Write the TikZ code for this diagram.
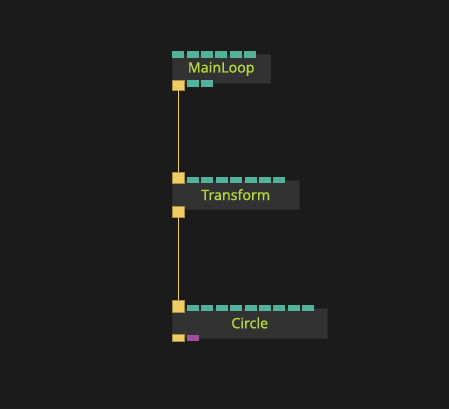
\documentclass[tikz,border=0pt]{standalone}
\usepackage{fontspec}
\setmainfont{Noto Sans}
\newfontfamily\labelfont[FakeBold=0.8]{Noto Sans}
\definecolor{canvas}{HTML}{1B1B1B}
\definecolor{nodebg}{HTML}{323232}
\definecolor{nodeedge}{HTML}{2A2A2A}
\definecolor{label}{HTML}{B8D63C}
\definecolor{teal}{HTML}{52B39A}
\definecolor{flow}{HTML}{F0CD64}
\definecolor{mauve}{HTML}{A0509A}
\tikzset{
  opnode/.style={draw=nodeedge,fill=nodebg,text=label,anchor=north west,
    minimum height=29.5pt,inner sep=0pt,font=\labelfont\fontsize{14.2}{16}\selectfont},
  flowport/.style={fill=flow,draw=flow!70!black,line width=0.4pt,anchor=north west,
    minimum width=12pt,minimum height=11pt,inner sep=0pt},
  dataport/.style={fill=teal,anchor=north west,minimum width=12pt,minimum height=6.7pt,inner sep=0pt},
  link/.style={draw=flow,line width=0.8pt}
}
\begin{document}
\begin{tikzpicture}[x=1pt,y=-1pt]
\fill[canvas] (0,0) rectangle (449,409);
\useasboundingbox (0,0) rectangle (449,409);

% MainLoop
\node[opnode,minimum width=98pt] (mainloop) at (172,54) {MainLoop};
\foreach \i in {0,...,5}
  \node[dataport] (ml-in\i) at ({172+14.4*\i},50.7) {};
\node[flowport,minimum height=10pt] (ml-out) at (172,80) {};
\node[dataport] (ml-d0) at (186.7,80) {};
\node[dataport] (ml-d1) at (201.1,80) {};

% Transform
\node[opnode,minimum width=127pt] (transform) at (172,179.7) {Transform};
\node[flowport] (tf-in) at (172,172.3) {};
\foreach \i in {0,...,6}
  \node[dataport] (tf-in\i) at ({186.7+14.4*\i},176.3) {};
\node[flowport] (tf-out) at (172,206) {};

% Circle
\node[opnode,minimum width=155pt,minimum height=30pt] (circle) at (172,307.7) {Circle};
\node[flowport,minimum height=11.4pt] (ci-in) at (172,300.3) {};
\foreach \i in {0,...,8}
  \node[dataport] (ci-in\i) at ({186.7+14.4*\i},304.3) {};
\node[flowport,minimum height=6.7pt] (ci-out) at (172,334.3) {};
\node[dataport,fill=mauve] (ci-d0) at (186.7,334.3) {};

% links
\draw[link] (ml-out) -- (tf-in);
\draw[link] (tf-out) -- (ci-in);
\end{tikzpicture}
\end{document}
